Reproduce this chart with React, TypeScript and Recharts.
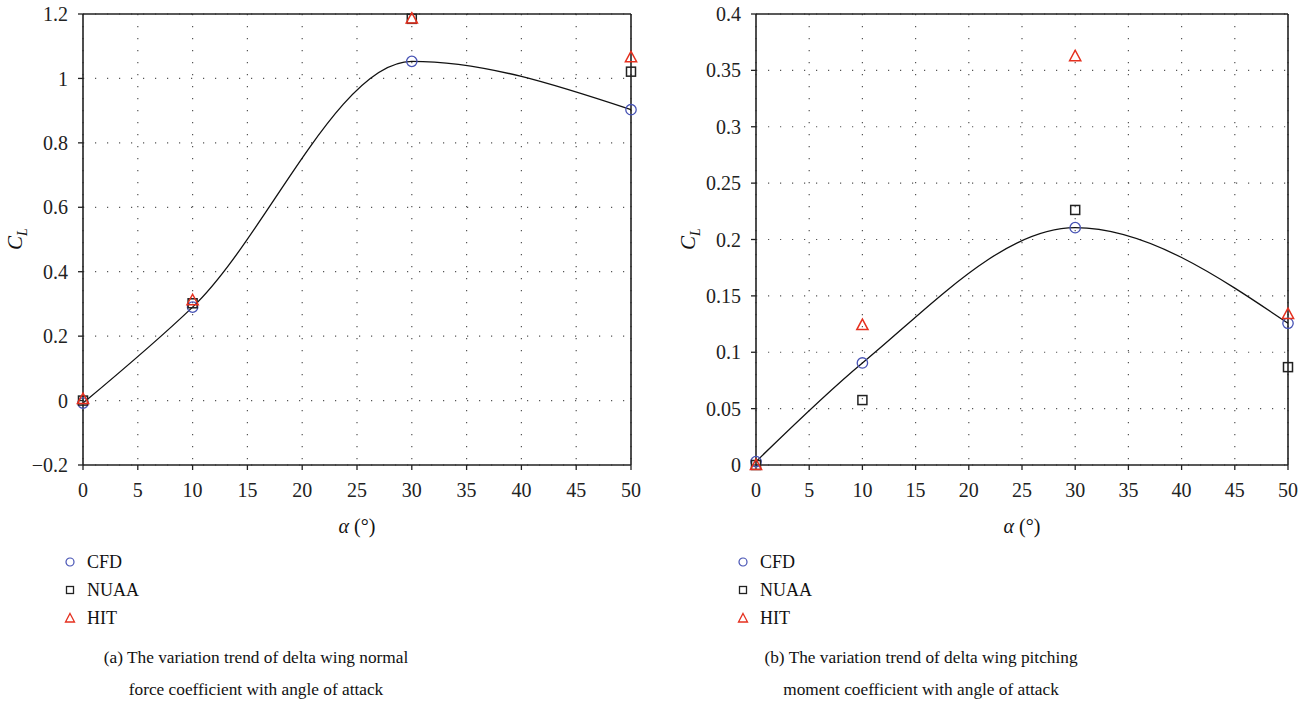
import {
  CartesianGrid,
  ComposedChart,
  Line,
  ReferenceLine,
  Scatter,
  XAxis,
  YAxis,
} from "recharts";

// angle of attack (deg)
const alpha = [0, 10, 30, 50];

// (a) normal force coefficient
const normalCfd = [-0.008, 0.29, 1.053, 0.903];
const normalNuaa = [0, 0.302, 1.185, 1.021];
const normalHit = [0.005, 0.312, 1.186, 1.066];

// (b) pitching moment coefficient
const pitchCfd = [0.003, 0.0905, 0.2105, 0.1257];
const pitchNuaa = [0, 0.0576, 0.2262, 0.0868];
const pitchHit = [0, 0.1242, 0.3627, 0.134];

const alphaTicks = [0, 5, 10, 15, 20, 25, 30, 35, 40, 45, 50];
const normalTicks = [-0.2, 0, 0.2, 0.4, 0.6, 0.8, 1, 1.2];
const pitchTicks = [0, 0.05, 0.1, 0.15, 0.2, 0.25, 0.3, 0.35, 0.4];

const seriesNames = ["CFD", "NUAA", "HIT"];

const BLUE = "#4652b4";
const RED = "#e5301f";
const INK = "#222";
const FONT = "Liberation Serif";

const rows = (vals: number[]) => alpha.map((a, i) => ({ a, cl: vals[i] }));
const fmt = (v: number) => (v < 0 ? "\u2212" + Math.abs(v) : String(v));

const CircleMark = (p: any) => (
  <circle cx={p.cx} cy={p.cy} r={5.2} fill="none" stroke={BLUE} strokeWidth={1.3} />
);
const SquareMark = (p: any) => (
  <rect x={p.cx - 4.5} y={p.cy - 4.5} width={9} height={9} fill="none" stroke={INK} strokeWidth={1.5} />
);
const TriangleMark = (p: any) => (
  <path
    d={`M${p.cx},${p.cy - 5.8} L${p.cx + 5.6},${p.cy + 4.6} L${p.cx - 5.6},${p.cy + 4.6} Z`}
    fill="none"
    stroke={RED}
    strokeWidth={1.5}
  />
);

function LegendIcon({ i }: { i: number }) {
  return (
    <svg width={12} height={12} style={{ position: "absolute", left: -6, top: -6 }}>
      {i === 0 && <circle cx={6} cy={6} r={4} fill="none" stroke={BLUE} strokeWidth={1.2} />}
      {i === 1 && <rect x={2.5} y={2.5} width={7} height={7} fill="none" stroke={INK} strokeWidth={1.3} />}
      {i === 2 && <path d="M6,1.5 L10.5,10 L1.5,10 Z" fill="none" stroke={RED} strokeWidth={1.3} />}
    </svg>
  );
}

type PanelProps = {
  left: number;
  plotLeft: number;
  plotRight: number;
  cfd: number[];
  nuaa: number[];
  hit: number[];
  yTicks: number[];
  caption: string[];
};

function Panel({ left, plotLeft, plotRight, cfd, nuaa, hit, yTicks, caption }: PanelProps) {
  const W = 660;
  const H = 520;
  const yDomain: [number, number] = [yTicks[0], yTicks[yTicks.length - 1]];
  const plotMid = (plotLeft + plotRight) / 2;
  const axisText = { fontSize: 20, fill: INK, fontFamily: FONT };

  return (
    <div style={{ position: "absolute", left, top: 0, width: W, height: 704, fontFamily: FONT, color: "#111" }}>
      <ComposedChart
        width={W}
        height={H}
        data={rows(cfd)}
        style={{ fontFamily: FONT }}
        margin={{ top: 14, right: W - plotRight, left: plotLeft - 70, bottom: 20 }}
      >
        <CartesianGrid stroke="#555" strokeWidth={1.2} strokeDasharray="1.2 10.8" />
        <XAxis
          dataKey="a"
          type="number"
          domain={[0, 50]}
          ticks={alphaTicks}
          height={35}
          tick={axisText}
          tickSize={5}
          tickMargin={13}
          axisLine={{ stroke: INK, strokeWidth: 1.6 }}
          tickLine={{ stroke: INK, strokeWidth: 1.3 }}
          interval={0}
        />
        <YAxis
          type="number"
          domain={yDomain}
          ticks={yTicks}
          width={70}
          tick={axisText}
          tickSize={5}
          tickMargin={10}
          tickFormatter={fmt}
          axisLine={{ stroke: INK, strokeWidth: 1.6 }}
          tickLine={{ stroke: INK, strokeWidth: 1.3 }}
          interval={0}
        />
        <ReferenceLine y={yDomain[1]} stroke={INK} strokeWidth={1.6} />
        <ReferenceLine x={50} stroke={INK} strokeWidth={1.6} />
        <Line
          type="monotone"
          dataKey="cl"
          stroke="#111"
          strokeWidth={1.3}
          dot={false}
          activeDot={false}
          isAnimationActive={false}
        />
        <Scatter data={rows(cfd)} dataKey="cl" shape={CircleMark} isAnimationActive={false} />
        <Scatter data={rows(nuaa)} dataKey="cl" shape={SquareMark} isAnimationActive={false} />
        <Scatter data={rows(hit)} dataKey="cl" shape={TriangleMark} isAnimationActive={false} />
      </ComposedChart>

      <div
        style={{
          position: "absolute",
          left: plotLeft - 66,
          top: 239,
          transform: "translate(-50%, -50%) rotate(-90deg)",
          fontSize: 21,
          whiteSpace: "nowrap",
        }}
      >
        <i>C</i>
        <sub style={{ fontSize: 14 }}>
          <i>L</i>
        </sub>
      </div>
      <div
        style={{
          position: "absolute",
          left: plotMid,
          top: 526,
          transform: "translate(-50%, -50%)",
          fontSize: 20,
          whiteSpace: "nowrap",
        }}
      >
        <i>α</i> (°)
      </div>

      {seriesNames.map((name, i) => (
        <div key={name} style={{ position: "absolute", left: 0, top: 562 + i * 28 }}>
          <div style={{ position: "absolute", left: plotLeft - 13, top: 0 }}>
            <LegendIcon i={i} />
          </div>
          <div
            style={{
              position: "absolute",
              left: plotLeft + 4,
              top: 0,
              transform: "translateY(-50%)",
              fontSize: 18,
              whiteSpace: "nowrap",
            }}
          >
            {name}
          </div>
        </div>
      ))}

      {caption.map((line, i) => (
        <div
          key={i}
          style={{
            position: "absolute",
            left: plotMid - 101,
            top: 658 + i * 32,
            transform: "translate(-50%, -50%)",
            fontSize: 17.3,
            whiteSpace: "nowrap",
          }}
        >
          {line}
        </div>
      ))}
    </div>
  );
}

export default function App() {
  return (
    <div style={{ position: "absolute", left: 0, top: 0, width: 1309, height: 704, background: "#fff" }}>
      <Panel
        left={0}
        plotLeft={83}
        plotRight={631}
        cfd={normalCfd}
        nuaa={normalNuaa}
        hit={normalHit}
        yTicks={normalTicks}
        caption={["(a) The variation trend of delta wing normal", "force coefficient with angle of attack"]}
      />
      <Panel
        left={660}
        plotLeft={96}
        plotRight={628}
        cfd={pitchCfd}
        nuaa={pitchNuaa}
        hit={pitchHit}
        yTicks={pitchTicks}
        caption={["(b) The variation trend of delta wing pitching", "moment coefficient with angle of attack"]}
      />
    </div>
  );
}
